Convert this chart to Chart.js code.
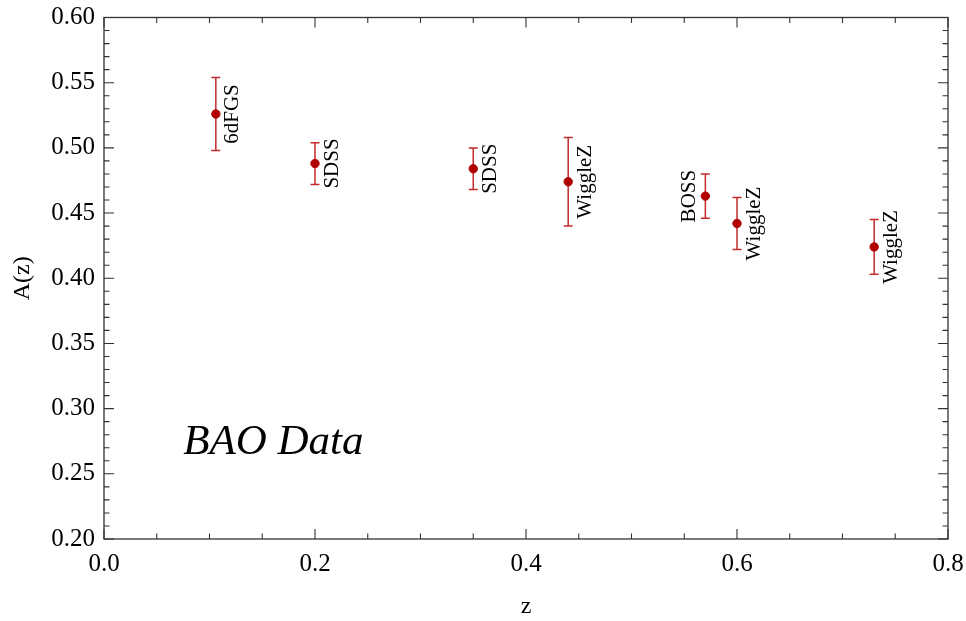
<!DOCTYPE html>
<html>
<head>
<meta charset="utf-8">
<script src="https://cdn.jsdelivr.net/npm/chart.js@4/dist/chart.umd.min.js"></script>
<style>
  html, body { margin: 0; padding: 0; background: #fff; }
  #wrap { width: 966px; height: 621px; position: relative; }
</style>
</head>
<body>
<div id="wrap"><canvas id="c"></canvas></div>
<script>
// BAO measurements of the acoustic parameter A(z)
const surveys  = ['6dFGS', 'SDSS', 'SDSS', 'WiggleZ', 'BOSS', 'WiggleZ', 'WiggleZ'];
const redshift = [0.106, 0.20, 0.35, 0.44, 0.57, 0.60, 0.73];
const aValues  = [0.526, 0.488, 0.484, 0.474, 0.463, 0.442, 0.424];
const aErrors  = [0.028, 0.016, 0.016, 0.034, 0.017, 0.020, 0.021];
const labelSide = ['right', 'right', 'right', 'right', 'left', 'right', 'right'];

const xTicks = [0.0, 0.2, 0.4, 0.6, 0.8];
const yTicks = [0.20, 0.25, 0.30, 0.35, 0.40, 0.45, 0.50, 0.55, 0.60];

const SERIF = '"Liberation Serif", "DejaVu Serif", serif';
const POINT_COLOR = '#b00000';
const BAR_COLOR = '#c42a2a';

// Frame with inward major/minor ticks on all four sides
const framePlugin = {
  id: 'frame',
  afterDatasetsDraw(chart) {
    const { ctx, chartArea: a, scales: { x, y } } = chart;
    ctx.save();
    ctx.strokeStyle = '#333';
    ctx.lineWidth = 1.3;
    ctx.strokeRect(a.left, a.top, a.right - a.left, a.bottom - a.top);
    ctx.lineWidth = 1.1;
    ctx.beginPath();
    for (let i = 0; i <= 16; i++) {
      const v = i * 0.05;
      const px = x.getPixelForValue(v);
      const len = (i % 4 === 0) ? 10 : 5.5;
      ctx.moveTo(px, a.bottom); ctx.lineTo(px, a.bottom - len);
      ctx.moveTo(px, a.top); ctx.lineTo(px, a.top + len);
    }
    for (let i = 0; i <= 40; i++) {
      const v = 0.2 + i * 0.01;
      const py = y.getPixelForValue(v);
      const len = (i % 5 === 0) ? 10 : 5.5;
      ctx.moveTo(a.left, py); ctx.lineTo(a.left + len, py);
      ctx.moveTo(a.right, py); ctx.lineTo(a.right - len, py);
    }
    ctx.stroke();
    ctx.restore();
  }
};

// Vertical error bars with caps
const errorBarPlugin = {
  id: 'errorBars',
  beforeDatasetsDraw(chart) {
    const { ctx, scales: { x, y } } = chart;
    ctx.save();
    ctx.strokeStyle = BAR_COLOR;
    ctx.lineWidth = 1.5;
    ctx.beginPath();
    redshift.forEach((z, i) => {
      const px = x.getPixelForValue(z);
      const top = y.getPixelForValue(aValues[i] + aErrors[i]);
      const bot = y.getPixelForValue(aValues[i] - aErrors[i]);
      ctx.moveTo(px, top); ctx.lineTo(px, bot);
      ctx.moveTo(px - 4.5, top); ctx.lineTo(px + 4.5, top);
      ctx.moveTo(px - 4.5, bot); ctx.lineTo(px + 4.5, bot);
    });
    ctx.stroke();
    ctx.restore();
  }
};

// Rotated survey names beside each point, plus the panel caption
const labelPlugin = {
  id: 'surveyLabels',
  afterDatasetsDraw(chart) {
    const { ctx, scales: { x, y } } = chart;
    ctx.save();
    ctx.fillStyle = '#000';
    ctx.font = '21px ' + SERIF;
    ctx.textAlign = 'center';
    ctx.textBaseline = 'middle';
    surveys.forEach((name, i) => {
      const px = x.getPixelForValue(redshift[i]) + (labelSide[i] === 'left' ? -16 : 17);
      const py = y.getPixelForValue(aValues[i]);
      ctx.save();
      ctx.translate(px, py);
      ctx.rotate(-Math.PI / 2);
      ctx.fillText(name, 0, 0);
      ctx.restore();
    });
    ctx.font = 'italic 43px ' + SERIF;
    ctx.textAlign = 'left';
    ctx.fillText('BAO Data', x.getPixelForValue(0.075), y.getPixelForValue(0.274));
    ctx.restore();
  }
};

new Chart(document.getElementById('c'), {
  type: 'scatter',
  data: {
    datasets: [{
      data: redshift.map((z, i) => ({ x: z, y: aValues[i] })),
      backgroundColor: POINT_COLOR,
      borderColor: POINT_COLOR,
      pointRadius: 4.2,
      pointHoverRadius: 4.2
    }]
  },
  options: {
    responsive: true,
    maintainAspectRatio: false,
    animation: false,
    events: [],
    layout: { padding: { top: 17.5, right: 18, left: 0, bottom: 0 } },
    plugins: { legend: { display: false }, tooltip: { enabled: false } },
    scales: {
      x: {
        type: 'linear',
        min: 0, max: 0.8,
        afterBuildTicks: s => { s.ticks = xTicks.map(v => ({ value: v })); },
        afterFit: s => { s.height = 82; },
        grid: { display: false, drawTicks: true, tickLength: 13 },
        border: { display: false },
        ticks: {
          padding: 0,
          color: '#000',
          font: { family: SERIF, size: 25, lineHeight: 1.0 },
          callback: v => v.toFixed(1)
        },
        title: {
          display: true, text: 'z', color: '#000',
          font: { family: SERIF, size: 24 },
          padding: { top: 6, bottom: 0 }
        }
      },
      y: {
        type: 'linear',
        min: 0.2, max: 0.6,
        afterBuildTicks: s => { s.ticks = yTicks.map(v => ({ value: v })); },
        afterFit: s => { s.width = 104; },
        grid: { display: false, drawTicks: true, tickLength: 9 },
        border: { display: false },
        ticks: {
          padding: 0,
          color: '#000',
          font: { family: SERIF, size: 25, lineHeight: 1.0 },
          callback: v => v.toFixed(2)
        },
        title: {
          display: true, text: 'A(z)', color: '#000',
          font: { family: SERIF, size: 24 },
          padding: { top: 8, bottom: 4 }
        }
      }
    }
  },
  plugins: [errorBarPlugin, framePlugin, labelPlugin]
});
</script>
</body>
</html>
